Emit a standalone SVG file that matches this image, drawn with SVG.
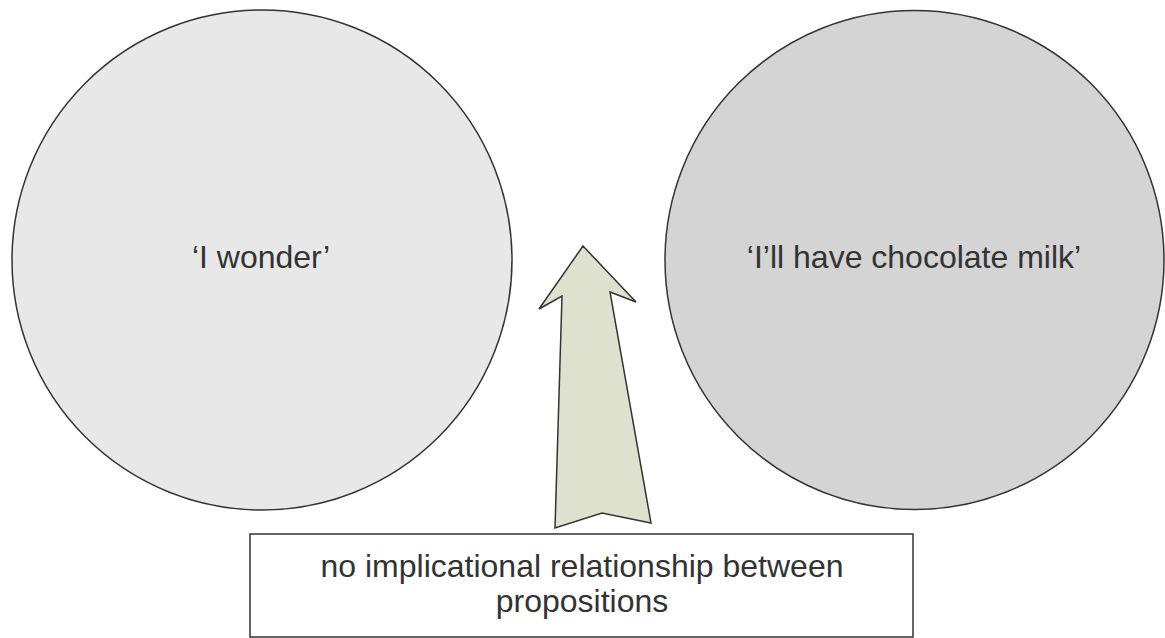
<svg xmlns="http://www.w3.org/2000/svg" width="1165" height="638" viewBox="0 0 1165 638">
<style>
text{font-family:"Liberation Sans",Arial,sans-serif;font-size:32px;fill:#333;text-anchor:middle}
.c{stroke:#333;stroke-width:1.5}
</style>
<rect width="1165" height="638" fill="#fff"/>
<g id="left"><circle class="c" cx="262" cy="260" r="250" fill="#e8e8e8"/><text x="261" y="268">‘I wonder’</text></g>
<g id="right"><circle class="c" cx="914.5" cy="260" r="249.5" fill="#d4d4d4"/><text x="914" y="268">‘I’ll have chocolate milk’</text></g>
<g id="connectors"><polygon points="583,246 636,302 610,292 651,523 602,513 555,528 562,296 539,309" fill="#dfe1cf" stroke="#333" stroke-width="1.5" stroke-linejoin="miter"/></g>
<g id="label"><rect x="250" y="534" width="663" height="103" fill="#fff" stroke="#333" stroke-width="1.5"/><text x="582" y="577">no implicational relationship between</text><text x="582" y="612">propositions</text></g>
</svg>
